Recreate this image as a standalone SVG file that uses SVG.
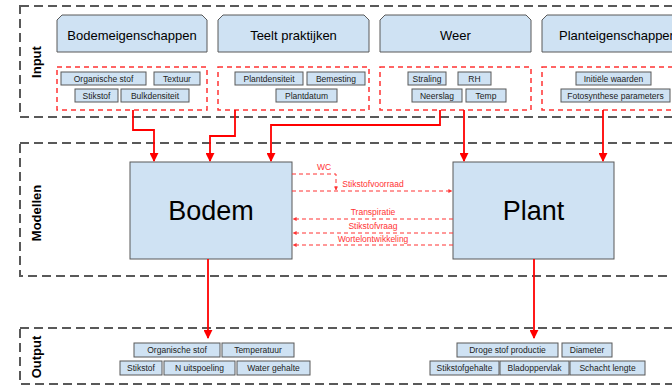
<svg xmlns="http://www.w3.org/2000/svg" width="672" height="387" viewBox="0 0 672 387">
<defs>
<marker id="ah" viewBox="0 0 10 10" refX="9" refY="5" markerWidth="5" markerHeight="5" orient="auto"><path d="M0,0 L10,5 L0,10 z" fill="#ff0000"/></marker>
<marker id="ahs" viewBox="0 0 10 10" refX="9" refY="5" markerWidth="4" markerHeight="4" orient="auto"><path d="M0,0 L10,5 L0,10 z" fill="#ff3333"/></marker>
</defs>
<style>
.lane{fill:none;stroke:#595959;stroke-width:2;stroke-dasharray:9,5}
.hdr{fill:#cfe2f3;stroke:#595959;stroke-width:1}
.grp{fill:none;stroke:#ff3333;stroke-width:1.5;stroke-dasharray:5,4}
.sb{fill:#cfe2f3;stroke:#595959;stroke-width:1}
.big{fill:#cfe2f3;stroke:#595959;stroke-width:1}
text{font-family:"Liberation Sans",Arial,sans-serif;fill:#000}
.ht{font-size:13px;text-anchor:middle}
.st{font-size:8.5px;text-anchor:middle;fill:#222}
.bt{font-size:27px;text-anchor:middle}
.lt{font-size:13px;font-weight:bold;text-anchor:middle}
.ct{font-size:8.5px;text-anchor:middle;fill:#ff3333}
.arr{fill:none;stroke:#ff0000;stroke-width:1.8;marker-end:url(#ah)}
.dash{fill:none;stroke:#ff3333;stroke-width:1;stroke-dasharray:4,3;marker-end:url(#ahs)}
</style>
<g id="lanes">
<rect class="lane" x="20" y="6" width="670" height="111"/>
<rect class="lane" x="20" y="143" width="670" height="133"/>
<rect class="lane" x="20" y="328" width="670" height="56"/>
<text class="lt" transform="translate(41,62) rotate(-90)">Input</text>
<text class="lt" transform="translate(41,213) rotate(-90)">Modellen</text>
<text class="lt" transform="translate(41,357) rotate(-90)">Output</text>
</g>
<g id="bodemeigenschappen">
<path class="hdr" d="M62,15 H202 L207,20 V52 H57 V20 Z"/>
<text class="ht" x="132" y="40">Bodemeigenschappen</text>
<rect class="grp" x="57" y="67" width="150" height="43"/>
<rect class="sb" x="61" y="72" width="85" height="13"/><text class="st" x="103.5" y="81.5">Organische stof</text>
<rect class="sb" x="154" y="72" width="46" height="13"/><text class="st" x="177" y="81.5">Textuur</text>
<rect class="sb" x="75" y="89" width="43" height="13"/><text class="st" x="96.5" y="98.5">Stikstof</text>
<rect class="sb" x="121" y="89" width="68" height="13"/><text class="st" x="155" y="98.5">Bulkdensiteit</text>
</g>
<g id="teelt">
<path class="hdr" d="M223,15 H364 L369,20 V52 H218 V20 Z"/>
<text class="ht" x="293.5" y="40">Teelt praktijken</text>
<rect class="grp" x="218" y="67" width="151" height="43"/>
<rect class="sb" x="235" y="72" width="68" height="13"/><text class="st" x="269" y="81.5">Plantdensiteit</text>
<rect class="sb" x="307" y="72" width="58" height="13"/><text class="st" x="336" y="81.5">Bemesting</text>
<rect class="sb" x="276" y="89" width="61" height="13"/><text class="st" x="306.5" y="98.5">Plantdatum</text>
</g>
<g id="weer">
<path class="hdr" d="M385,15 H526 L531,20 V52 H380 V20 Z"/>
<text class="ht" x="455.5" y="40">Weer</text>
<rect class="grp" x="380" y="67" width="151" height="43"/>
<rect class="sb" x="408" y="72" width="38" height="13"/><text class="st" x="427" y="81.5">Straling</text>
<rect class="sb" x="458" y="72" width="33" height="13"/><text class="st" x="474.5" y="81.5">RH</text>
<rect class="sb" x="412" y="89" width="50" height="13"/><text class="st" x="437" y="98.5">Neerslag</text>
<rect class="sb" x="466" y="89" width="40" height="13"/><text class="st" x="486" y="98.5">Temp</text>
</g>
<g id="planteigenschappen">
<path class="hdr" d="M547,15 H688 L693,20 V52 H542 V20 Z"/>
<text class="ht" x="559" y="40" text-anchor="start" style="text-anchor:start">Planteigenschappen</text>
<rect class="grp" x="542" y="67" width="151" height="43"/>
<rect class="sb" x="576" y="72" width="75" height="13"/><text class="st" x="613.5" y="81.5">Initiële waarden</text>
<rect class="sb" x="561" y="89" width="109" height="13"/><text class="st" x="615.5" y="98.5">Fotosynthese parameters</text>
</g>
<g id="bodem">
<rect class="big" x="130" y="162" width="162" height="97"/>
<text class="bt" x="211" y="220">Bodem</text>
</g>
<g id="plant">
<rect class="big" x="453" y="162" width="161" height="97"/>
<text class="bt" x="533.5" y="220">Plant</text>
</g>
<g id="output-bodem">
<rect class="sb" x="134" y="343" width="86" height="14"/><text class="st" x="177" y="353">Organische stof</text>
<rect class="sb" x="222" y="343" width="72" height="14"/><text class="st" x="258" y="353">Temperatuur</text>
<rect class="sb" x="120" y="361" width="42" height="14"/><text class="st" x="141" y="371">Stikstof</text>
<rect class="sb" x="164" y="361" width="71" height="14"/><text class="st" x="199.5" y="371">N uitspoeling</text>
<rect class="sb" x="237" y="361" width="73" height="14"/><text class="st" x="273.5" y="371">Water gehalte</text>
</g>
<g id="output-plant">
<rect class="sb" x="457" y="343" width="101" height="14"/><text class="st" x="507.5" y="353">Droge stof productie</text>
<rect class="sb" x="562" y="343" width="50" height="14"/><text class="st" x="587" y="353">Diameter</text>
<rect class="sb" x="430" y="361" width="69" height="14"/><text class="st" x="464.5" y="371">Stikstofgehalte</text>
<rect class="sb" x="500" y="361" width="69" height="14"/><text class="st" x="534.5" y="371">Bladoppervlak</text>
<rect class="sb" x="570" y="361" width="75" height="14"/><text class="st" x="607.5" y="371">Schacht lengte</text>
</g>
<g id="connectors">
<path class="arr" d="M133,110 V130 H154 V161"/>
<path class="arr" d="M235,110 V136 H210 V161"/>
<path class="arr" d="M440,110 V125 H271 V161"/>
<path class="arr" d="M464,110 V161"/>
<path class="arr" d="M603,110 V161"/>
<path class="arr" d="M208,259 V338"/>
<path class="arr" d="M534,259 V338"/>
<path class="dash" d="M292,174 H336 V190"/>
<path class="dash" d="M292,191 H452"/>
<path class="dash" d="M453,219 H293"/>
<path class="dash" d="M453,233 H293"/>
<path class="dash" d="M453,245 H293"/>
<text class="ct" x="324" y="170">WC</text>
<text class="ct" x="373" y="187">Stikstofvoorraad</text>
<text class="ct" x="373" y="215">Transpiratie</text>
<text class="ct" x="373" y="229">Stikstofvraag</text>
<text class="ct" x="373" y="242">Wortelontwikkeling</text>
</g>
</svg>
